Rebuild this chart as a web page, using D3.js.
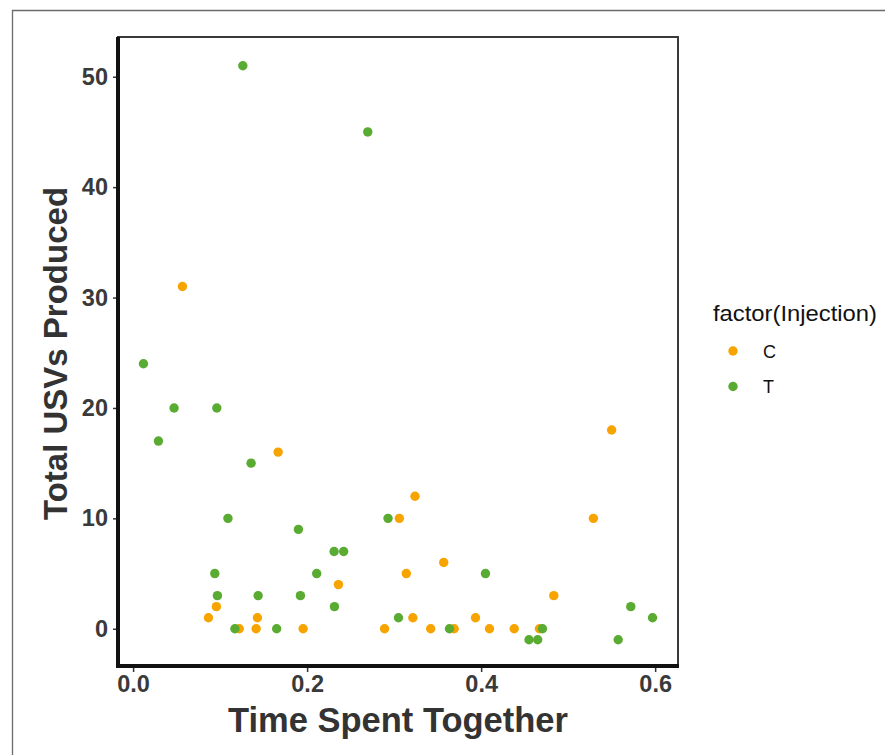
<!DOCTYPE html>
<html>
<head>
<meta charset="utf-8">
<script src="https://cdn.jsdelivr.net/npm/d3@7"></script>
<style>
    body { margin: 0; background: #fff; }
    svg { display: block; font-family: "Liberation Sans", Arial, sans-serif; }
</style>
</head>
<body>
<svg width="885" height="755"></svg>
<script>
(function () {
    // group C (orange)
    var cTime = [0.0567, 0.1667, 0.550, 0.324, 0.306, 0.529, 0.357, 0.314, 0.236, 0.4835,
        0.0957, 0.0866, 0.1429, 0.3215, 0.3935, 0.122, 0.1414, 0.1954, 0.289, 0.342,
        0.369, 0.4096, 0.438, 0.467];
    var cUSV = [31, 16, 18, 12, 10, 10, 6, 5, 4, 3,
        2, 1, 1, 1, 1, 0, 0, 0, 0, 0,
        0, 0, 0, 0];

    // group T (green)
    var tTime = [0.1261, 0.2697, 0.0119, 0.0471, 0.0962, 0.0291, 0.1356, 0.109, 0.293, 0.190,
        0.231, 0.242, 0.0939, 0.211, 0.405, 0.0969, 0.1437, 0.1923, 0.2314, 0.572,
        0.305, 0.597, 0.117, 0.165, 0.3636, 0.4705, 0.455, 0.465, 0.5575];
    var tUSV = [51, 45, 24, 20, 20, 17, 15, 10, 10, 9,
        7, 7, 5, 5, 5, 3, 3, 3, 2, 2,
        1, 1, 0, 0, 0, 0, -1, -1, -1];

    var groups = ['C', 'T'];
    var groupColors = ['#f7a400', '#5aab32'];
    var xTicks = [0, 0.2, 0.4, 0.6];
    var yTicks = [0, 10, 20, 30, 40, 50];

    var svg = d3.select('svg');
    var panel = { left: 118, right: 678, top: 37, bottom: 668.5 };
    var axisY = 666;

    var points = [];
    cTime.forEach(function (t, i) { points.push({ x: t, y: cUSV[i], g: 'C' }); });
    tTime.forEach(function (t, i) { points.push({ x: t, y: tUSV[i], g: 'T' }); });

    // ggplot-style 5% expansion
    function expand(ext) {
        var pad = (ext[1] - ext[0]) * 0.05;
        return [ext[0] - pad, ext[1] + pad];
    }

    var x = d3.scaleLinear()
        .domain(expand(d3.extent(points, function (d) { return d.x; })))
        .range([panel.left, panel.right]);
    var y = d3.scaleLinear()
        .domain(expand(d3.extent(points, function (d) { return d.y; })))
        .range([panel.bottom, panel.top]);
    var color = d3.scaleOrdinal().domain(groups).range(groupColors);

    // outer frame
    svg.append('path')
        .attr('d', 'M12.5,760 V10.5 H890')
        .attr('fill', 'none')
        .attr('stroke', '#6a6a6a')
        .attr('stroke-width', 1.3);

    // panel border (thin, top/right)
    svg.append('rect')
        .attr('x', panel.left)
        .attr('y', panel.top)
        .attr('width', panel.right - panel.left)
        .attr('height', axisY - panel.top)
        .attr('fill', 'none')
        .attr('stroke', '#3a3a3a')
        .attr('stroke-width', 2);

    // axes
    var xAxis = svg.append('g')
        .attr('transform', 'translate(0,' + (axisY + 2) + ')')
        .call(d3.axisBottom(x).tickValues(xTicks).tickFormat(d3.format('.1f')).tickSize(4).tickPadding(3));
    var yAxis = svg.append('g')
        .attr('transform', 'translate(' + (panel.left - 1) + ',0)')
        .call(d3.axisLeft(y).tickValues(yTicks).tickSize(4).tickPadding(5));

    [xAxis, yAxis].forEach(function (ax) {
        ax.select('.domain').remove();
        ax.selectAll('.tick line').attr('stroke', '#333').attr('stroke-width', 1.5);
        ax.selectAll('.tick text')
            .attr('fill', '#3a3a3a')
            .style('font-size', '23.5px')
            .style('font-weight', 'bold')
            .style('font-family', '"Liberation Sans", Arial, sans-serif');
    });

    // thick axis lines (left and bottom)
    svg.append('path')
        .attr('d', 'M' + panel.left + ',' + panel.top + ' V' + axisY + ' H' + (panel.right + 1))
        .attr('fill', 'none')
        .attr('stroke', '#111')
        .attr('stroke-width', 4);

    // points
    svg.append('g')
        .selectAll('circle')
        .data(points)
        .enter()
        .append('circle')
        .attr('cx', function (d) { return x(d.x); })
        .attr('cy', function (d) { return y(d.y); })
        .attr('r', 4.7)
        .attr('fill', function (d) { return color(d.g); });

    // axis titles
    svg.append('text')
        .attr('x', (panel.left + panel.right) / 2)
        .attr('y', 732)
        .attr('text-anchor', 'middle')
        .attr('fill', '#333')
        .style('font-size', '34.5px')
        .style('font-weight', 'bold')
        .text('Time Spent Together');

    svg.append('text')
        .attr('transform', 'translate(67,' + ((panel.top + axisY) / 2 + 2) + ') rotate(-90)')
        .attr('text-anchor', 'middle')
        .attr('fill', '#333')
        .style('font-size', '33px')
        .style('font-weight', 'bold')
        .text('Total USVs Produced');

    // legend
    var legend = svg.append('g');
    legend.append('text')
        .attr('x', 713)
        .attr('y', 321)
        .attr('fill', '#111')
        .attr('textLength', 164)
        .attr('lengthAdjust', 'spacingAndGlyphs')
        .style('font-size', '21.5px')
        .text('factor(Injection)');

    var keys = legend.selectAll('g.key')
        .data(groups)
        .enter()
        .append('g')
        .attr('class', 'key')
        .attr('transform', function (d, i) { return 'translate(0,' + (351 + i * 35.5) + ')'; });
    keys.append('circle')
        .attr('cx', 733)
        .attr('cy', 0)
        .attr('r', 4.7)
        .attr('fill', function (d) { return color(d); });
    keys.append('text')
        .attr('x', 763)
        .attr('y', 6.5)
        .attr('fill', '#111')
        .style('font-size', '18px')
        .text(function (d) { return d; });
}());
</script>
</body>
</html>
